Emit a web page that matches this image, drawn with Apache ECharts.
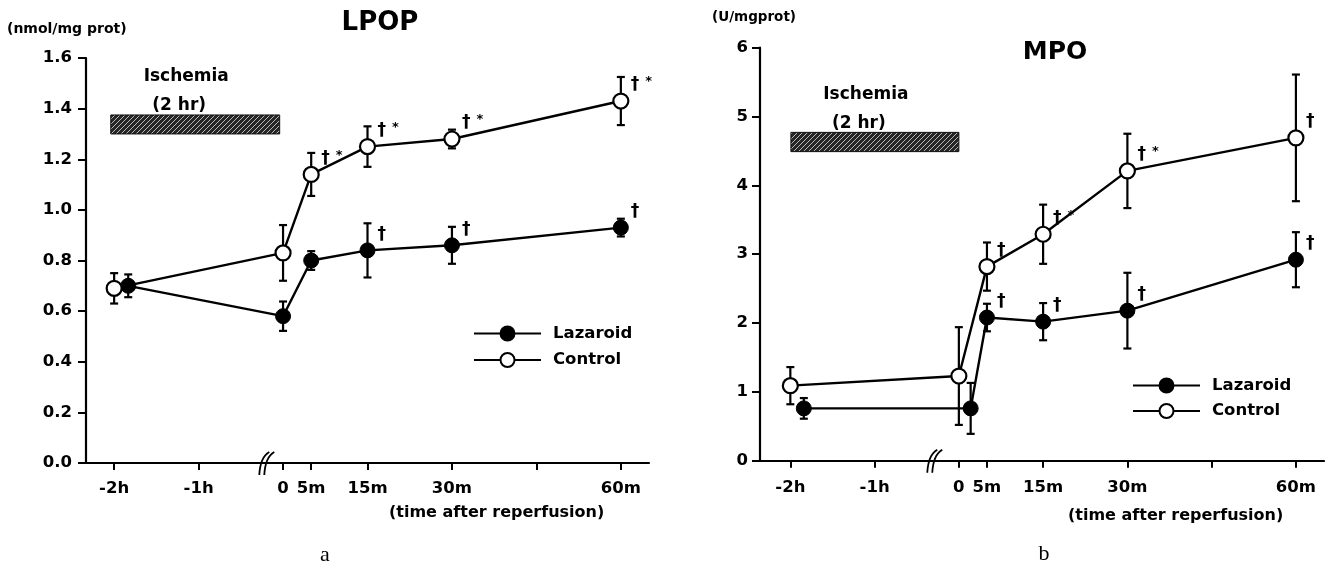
<!DOCTYPE html>
<html>
<head>
<meta charset="utf-8">
<script src="https://cdn.jsdelivr.net/npm/echarts@6/dist/echarts.min.js"></script>
<style>
html,body{margin:0;padding:0;background:#fff;}
#chart{width:1325px;height:567px;}
</style>
</head>
<body>
<div id="chart"></div>
<script>
// ---- tick labels (time axis, compressed before reperfusion) ----
const timeTickValues = [-30, -15, 0, 5, 15, 30, 45, 60];
const timeLabelValues = [-30, -15, 0, 5, 15, 30, 60];
const timeLabels = ['-2h', '-1h', '0', '5m', '15m', '30m', '60m'];
const seriesNames = ['Lazaroid', 'Control'];

// ---- LPOP (nmol/mg prot) ----
const lpopControlX = [-30, 0, 5, 15, 30, 60];
const lpopControl = [0.69, 0.83, 1.14, 1.25, 1.28, 1.43];
const lpopControlErr = [0.06, 0.11, 0.085, 0.08, 0.037, 0.095];
const lpopControlMarks = ['', '', '† *', '† *', '† *', '† *'];
const lpopLazaroidX = [-27.5, 0, 5, 15, 30, 60];
const lpopLazaroid = [0.70, 0.58, 0.80, 0.84, 0.86, 0.93];
const lpopLazaroidErr = [0.045, 0.058, 0.037, 0.107, 0.073, 0.035];
const lpopLazaroidMarks = ['', '', '', '†', '†', '†'];
const lpopIschemia = [-30.6, -0.6, 1.30, 1.375];

// ---- MPO (U/mgprot) ----
const mpoControlX = [-30, 0, 5, 15, 30, 60];
const mpoControl = [1.09, 1.23, 2.82, 3.29, 4.21, 4.69];
const mpoControlErr = [0.27, 0.71, 0.35, 0.43, 0.54, 0.92];
const mpoControlMarks = ['', '', '†', '† *', '† *', '†'];
const mpoLazaroidX = [-27.6, 2.1, 5, 15, 30, 60];
const mpoLazaroid = [0.76, 0.76, 2.08, 2.02, 2.18, 2.92];
const mpoLazaroidErr = [0.15, 0.37, 0.2, 0.27, 0.55, 0.4];
const mpoLazaroidMarks = ['', '', '†', '†', '†', '†'];
const mpoIschemia = [-29.9, 0, 4.49, 4.77];

const FONT = 'DejaVu Sans';

// hatch pattern for the ischemia bar
const pat = document.createElement('canvas');
pat.width = 5; pat.height = 5;
(function () {
  const c = pat.getContext('2d');
  c.fillStyle = '#262626';
  c.fillRect(0, 0, 5, 5);
  c.strokeStyle = '#c8c8c8';
  c.lineWidth = 0.9;
  c.beginPath();
  c.moveTo(0, 5); c.lineTo(5, 0);
  c.moveTo(-1, 1); c.lineTo(1, -1);
  c.moveTo(4, 6); c.lineTo(6, 4);
  c.stroke();
})();

function zip(xs, ys) { return xs.map((x, i) => [x, ys[i]]); }
function zip3(xs, ys, es) { return xs.map((x, i) => [x, ys[i], es[i]]); }

function lineSeries(name, xs, ys, idx, filled) {
  return {
    type: 'line', name: name, xAxisIndex: idx, yAxisIndex: idx,
    data: zip(xs, ys), symbol: 'circle', symbolSize: 15, z: 5,
    lineStyle: { color: '#000', width: 2.4 },
    itemStyle: filled ? { color: '#000', borderColor: '#000', borderWidth: 1 }
                      : { color: '#fff', borderColor: '#000', borderWidth: 2.2 },
    emphasis: { disabled: true }
  };
}

function errSeries(xs, ys, es, idx) {
  return {
    type: 'custom', xAxisIndex: idx, yAxisIndex: idx, z: 2, silent: true,
    data: zip3(xs, ys, es),
    renderItem: function (params, api) {
      const x = api.value(0), y = api.value(1), e = api.value(2);
      const t = api.coord([x, y + e]), b = api.coord([x, y - e]);
      const st = { stroke: '#000', lineWidth: 2.2 };
      return { type: 'group', children: [
        { type: 'line', shape: { x1: t[0], y1: t[1], x2: b[0], y2: b[1] }, style: st },
        { type: 'line', shape: { x1: t[0] - 4, y1: t[1], x2: t[0] + 4, y2: t[1] }, style: st },
        { type: 'line', shape: { x1: b[0] - 4, y1: b[1], x2: b[0] + 4, y2: b[1] }, style: st }
      ]};
    }
  };
}

function markSeries(xs, ys, marks, idx) {
  return {
    type: 'custom', xAxisIndex: idx, yAxisIndex: idx, z: 6, silent: true,
    data: zip(xs, ys),
    renderItem: function (params, api) {
      const m = marks[params.dataIndex];
      if (!m) return null;
      const p = api.coord([api.value(0), api.value(1)]);
      const parts = m.split(' ');
      const txt = '{d|' + parts[0] + '}' + (parts[1] ? '{s|' + parts[1] + '}' : '');
      return { type: 'text', x: p[0] + 10, y: p[1] - 16, style: {
        text: txt, verticalAlign: 'middle', align: 'left',
        rich: {
          d: { fontFamily: FONT, fontWeight: 'bold', fontSize: 17, fill: '#000' },
          s: { fontFamily: FONT, fontWeight: 'bold', fontSize: 13, fill: '#000', padding: [0, 0, 6, 6] }
        }
      }};
    }
  };
}

function ischemiaSeries(range, idx) {
  return {
    type: 'custom', xAxisIndex: idx, yAxisIndex: idx, z: 3, silent: true,
    data: [range],
    encode: { x: [0, 1], y: [2, 3] },
    renderItem: function (params, api) {
      const p0 = api.coord([api.value(0), api.value(3)]);
      const p1 = api.coord([api.value(1), api.value(2)]);
      const cx = (p0[0] + p1[0]) / 2;
      const tf = { fontFamily: FONT, fontWeight: 'bold', fontSize: 17, fill: '#000', align: 'center', verticalAlign: 'middle' };
      return { type: 'group', children: [
        { type: 'rect', shape: { x: p0[0], y: p0[1], width: p1[0] - p0[0], height: p1[1] - p0[1] },
          style: { fill: { image: pat, repeat: 'repeat' }, stroke: '#111', lineWidth: 1 } },
        { type: 'text', x: cx - 9, y: p0[1] - 38, style: Object.assign({ text: 'Ischemia' }, tf) },
        { type: 'text', x: cx - 16, y: p0[1] - 9, style: Object.assign({ text: '(2 hr)' }, tf) }
      ]};
    }
  };
}

function breakSeries(xpos, idx) {
  return {
    type: 'custom', xAxisIndex: idx, yAxisIndex: idx, z: 7, silent: true,
    data: [[xpos, 0]],
    renderItem: function (params, api) {
      const p = api.coord([api.value(0), api.value(1)]);
      const st = { stroke: '#000', lineWidth: 1.8, fill: null };
      const mk = (dx) => ({ type: 'bezierCurve', shape: {
        x1: p[0] + dx - 4, y1: p[1] + 12, x2: p[0] + dx + 6, y2: p[1] - 11,
        cpx1: p[0] + dx - 3, cpy1: p[1] - 6 }, style: st });
      return { type: 'group', children: [mk(-4), mk(1)] };
    }
  };
}

function xAxisDef(idx, min) {
  return {
    type: 'value', gridIndex: idx, min: min, max: 65,
    axisLine: { show: true, onZero: false, lineStyle: { color: '#000', width: 2.2 } },
    axisTick: { show: true, length: 7, lineStyle: { color: '#000', width: 2 }, customValues: timeTickValues },
    axisLabel: {
      customValues: timeLabelValues,
      margin: idx === 0 ? 17 : 19,
      fontFamily: FONT, fontWeight: 'bold', fontSize: 16.5, color: '#000',
      formatter: function (v) { const i = timeLabelValues.indexOf(v); return i >= 0 ? timeLabels[i] : ''; }
    },
    splitLine: { show: false }
  };
}

function yAxisDef(idx, max, interval, dec) {
  return {
    type: 'value', gridIndex: idx, min: 0, max: max, interval: interval,
    axisLine: { show: true, onZero: false, lineStyle: { color: '#000', width: 2.2 } },
    axisTick: { show: true, length: 8, lineStyle: { color: '#000', width: 2 } },
    axisLabel: { margin: idx === 0 ? 14 : 12, fontFamily: FONT, fontWeight: 'bold', fontSize: 16.5, color: '#000',
      formatter: function (v) { return v.toFixed(dec); } },
    splitLine: { show: false }
  };
}

function legendDef(left, top, gap) {
  return {
    orient: 'vertical', left: left, top: top, padding: 0,
    itemWidth: 67, itemHeight: 17.5, itemGap: gap,
    data: seriesNames, selectedMode: false,
    textStyle: { fontFamily: FONT, fontWeight: 'bold', fontSize: 16.5, color: '#000', padding: [0, 0, 0, 7] }
  };
}

function gtext(x, y, text, size, align, extra) {
  return Object.assign({ type: 'text', x: x, y: y, style: {
    text: text, fontFamily: FONT, fontWeight: 'bold', fontSize: size, fill: '#000',
    align: align, verticalAlign: 'middle' } }, extra || {});
}

const chart = echarts.init(document.getElementById('chart'), null, { renderer: 'canvas' });
chart.setOption({
  animation: false,
  backgroundColor: '#fff',
  grid: [
    { left: 86, top: 58, width: 563, height: 405 },
    { left: 760, top: 47.7, width: 564, height: 413 }
  ],
  xAxis: [xAxisDef(0, -35), xAxisDef(1, -35.4)],
  yAxis: [yAxisDef(0, 1.6, 0.2, 1), yAxisDef(1, 6, 1, 0)],
  legend: [legendDef(473, 325, 9.5), legendDef(1132, 377, 8.5)],
  series: [
    errSeries(lpopControlX, lpopControl, lpopControlErr, 0),
    errSeries(lpopLazaroidX, lpopLazaroid, lpopLazaroidErr, 0),
    lineSeries('Lazaroid', lpopLazaroidX, lpopLazaroid, 0, true),
    lineSeries('Control', lpopControlX, lpopControl, 0, false),
    markSeries(lpopControlX, lpopControl, lpopControlMarks, 0),
    markSeries(lpopLazaroidX, lpopLazaroid, lpopLazaroidMarks, 0),
    ischemiaSeries(lpopIschemia, 0),
    breakSeries(-2.8, 0),

    errSeries(mpoControlX, mpoControl, mpoControlErr, 1),
    errSeries(mpoLazaroidX, mpoLazaroid, mpoLazaroidErr, 1),
    lineSeries('Lazaroid', mpoLazaroidX, mpoLazaroid, 1, true),
    lineSeries('Control', mpoControlX, mpoControl, 1, false),
    markSeries(mpoControlX, mpoControl, mpoControlMarks, 1),
    markSeries(mpoLazaroidX, mpoLazaroid, mpoLazaroidMarks, 1),
    ischemiaSeries(mpoIschemia, 1),
    breakSeries(-4.2, 1)
  ],
  graphic: [
    gtext(380, 23, 'LPOP', 26, 'center'),
    gtext(1055, 52, 'MPO', 25, 'center'),
    gtext(7, 29, '(nmol/mg prot)', 14, 'left'),
    gtext(712, 17, '(U/mgprot)', 13.5, 'left'),
    gtext(389, 513, '(time after reperfusion)', 16, 'left'),
    gtext(1068, 516, '(time after reperfusion)', 16, 'left'),
    { type: 'text', x: 325, y: 555, style: { text: 'a', fontFamily: 'Liberation Serif', fontSize: 22, fill: '#000', align: 'center', verticalAlign: 'middle' } },
    { type: 'text', x: 1044, y: 554, style: { text: 'b', fontFamily: 'Liberation Serif', fontSize: 22, fill: '#000', align: 'center', verticalAlign: 'middle' } }
  ]
});
</script>
</body>
</html>
